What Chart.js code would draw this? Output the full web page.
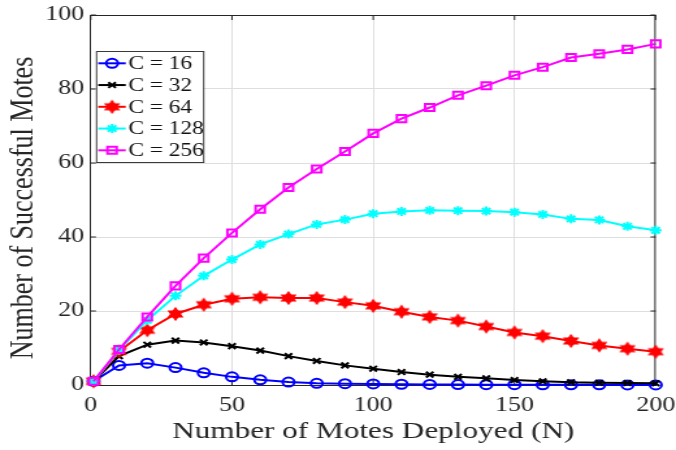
<!DOCTYPE html>
<html>
<head>
<meta charset="utf-8">
<script src="https://cdn.jsdelivr.net/npm/chart.js@4/dist/chart.umd.min.js"></script>
<style>
  html, body { margin: 0; padding: 0; background: #fff; overflow: hidden; }
</style>
</head>
<body>
<!-- the canvas is drawn narrow and widened by its inline size, giving the stretched look -->
<canvas id="chart" width="520" height="450" style="display:block;width:676px;height:450px"></canvas>
<script>
// Number of motes deployed (x axis)
const motesDeployed = [1, 10, 20, 30, 40, 50, 60, 70, 80, 90, 100, 110, 120, 130, 140, 150, 160, 170, 180, 190, 200];

// Number of successful motes for each channel count C
const successC16  = [1, 5.3, 5.9, 4.7, 3.3, 2.2, 1.4, 0.8, 0.45, 0.35, 0.3, 0.2, 0.15, 0.12, 0.1, 0.08, 0.06, 0.05, 0.04, 0.03, 0.03];
const successC32  = [1, 7.8, 10.9, 12.0, 11.5, 10.5, 9.3, 7.8, 6.5, 5.3, 4.4, 3.5, 2.8, 2.2, 1.8, 1.35, 1.0, 0.75, 0.63, 0.55, 0.45];
const successC64  = [1, 9.1, 14.8, 19.2, 21.7, 23.3, 23.7, 23.5, 23.5, 22.4, 21.4, 19.8, 18.4, 17.4, 15.8, 14.2, 13.2, 11.9, 10.7, 9.8, 9.0];
const successC128 = [1, 9.4, 17.5, 24.1, 29.5, 33.9, 38.0, 40.8, 43.4, 44.7, 46.3, 46.9, 47.2, 47.1, 47.0, 46.7, 46.1, 44.9, 44.6, 42.9, 41.8];
const successC256 = [1, 9.6, 18.4, 26.8, 34.3, 41.1, 47.5, 53.4, 58.4, 63.1, 68.0, 72.0, 75.0, 78.3, 80.9, 83.7, 85.9, 88.5, 89.5, 90.7, 92.2];

const seriesLabels = ['C = 16', 'C = 32', 'C = 64', 'C = 128', 'C = 256'];
const xTickValues = [0, 50, 100, 150, 200];
const yTickValues = [0, 20, 40, 60, 80, 100];

const xTitle = 'Number of Motes Deployed (N)';
const yTitle = 'Number of Successful Motes';

// six-pointed star marker (hexagram), filled
function makeHexagram(color, r) {
  const size = Math.ceil(r * 2 + 4);
  const c = document.createElement('canvas');
  c.width = size; c.height = size;
  const g = c.getContext('2d');
  const cx = size / 2, cy = size / 2;
  g.fillStyle = color;
  g.strokeStyle = color;
  g.lineWidth = 1.2;
  g.lineJoin = 'miter';
  [[-90, 30, 150], [90, 210, 330]].forEach(tri => {
    g.beginPath();
    tri.forEach((a, i) => {
      const t = a * Math.PI / 180;
      const px = cx + r * Math.cos(t), py = cy + r * Math.sin(t);
      if (i === 0) g.moveTo(px, py); else g.lineTo(px, py);
    });
    g.closePath();
    g.fill();
    g.stroke();
  });
  return c;
}
const hexagramRed = makeHexagram('#ff0000', 6);

const toPoints = ys => motesDeployed.map((x, i) => ({ x: x, y: ys[i] }));

const seriesStyles = [
  { color: '#0000ff', pointStyle: 'circle',   radius: 4.5 },
  { color: '#000000', pointStyle: 'crossRot', radius: 4 },
  { color: '#ff0000', pointStyle: hexagramRed, radius: 6 },
  { color: '#00ffff', pointStyle: 'star',     radius: 4.5 },
  { color: '#ff00ff', pointStyle: 'rect',     radius: 5 }
];
const seriesValues = [successC16, successC32, successC64, successC128, successC256];

const datasets = seriesValues.map((vals, i) => ({
  label: seriesLabels[i],
  data: toPoints(vals),
  borderColor: seriesStyles[i].color,
  backgroundColor: 'rgba(0,0,0,0)',
  borderWidth: 2,
  pointStyle: seriesStyles[i].pointStyle,
  pointRadius: seriesStyles[i].radius,
  pointHoverRadius: seriesStyles[i].radius,
  pointBorderColor: seriesStyles[i].color,
  pointBackgroundColor: 'rgba(0,0,0,0)',
  pointBorderWidth: 2,
  tension: 0,
  clip: false,
  order: seriesValues.length - 1 - i
}));

const axisColor = '#262626';
const gridColor = '#dedede';
const serifFont = '"Liberation Serif", "Times New Roman", serif';

// box outline, inward tick marks, vertical axis title and legend
const framePlugin = {
  id: 'frame',
  beforeDatasetsDraw(chart) {
    const { ctx, chartArea: a, scales } = chart;
    ctx.save();
    ctx.strokeStyle = axisColor;
    ctx.lineWidth = 1;
    ctx.beginPath();
    ctx.moveTo(a.left, a.top + 0.5); ctx.lineTo(a.right, a.top + 0.5);
    ctx.moveTo(a.right - 0.5, a.top); ctx.lineTo(a.right - 0.5, a.bottom);
    xTickValues.forEach(v => {
      const px = scales.x.getPixelForValue(v);
      ctx.moveTo(px, a.bottom); ctx.lineTo(px, a.bottom - 5);
      ctx.moveTo(px, a.top); ctx.lineTo(px, a.top + 5);
    });
    yTickValues.forEach(v => {
      const py = scales.y.getPixelForValue(v);
      ctx.moveTo(a.left, py); ctx.lineTo(a.left + 4, py);
      ctx.moveTo(a.right, py); ctx.lineTo(a.right - 4, py);
    });
    ctx.stroke();
    ctx.restore();
  },
  afterDraw(chart) {
    const { ctx } = chart;
    ctx.save();
    // vertical axis title
    ctx.fillStyle = axisColor;
    ctx.font = '26px ' + serifFont;
    ctx.textAlign = 'center';
    ctx.textBaseline = 'middle';
    ctx.translate(18, 208);
    ctx.rotate(-Math.PI / 2);
    ctx.fillText(yTitle, 0, 0);
    ctx.restore();

    // legend box
    ctx.save();
    const bx = 73.8, by = 51, bw = 82.4, bh = 111;
    ctx.fillStyle = '#ffffff';
    ctx.fillRect(bx, by, bw, bh);
    ctx.strokeStyle = '#3a3a3a';
    ctx.lineWidth = 1;
    ctx.strokeRect(bx + 0.5, by + 0.5, bw, bh);
    ctx.font = '18px ' + serifFont;
    ctx.textAlign = 'left';
    ctx.textBaseline = 'middle';
    chart.data.datasets.forEach((ds, i) => {
      const y = 63.3 + i * 21.75;
      ctx.strokeStyle = ds.borderColor;
      ctx.lineWidth = 2;
      ctx.beginPath();
      ctx.moveTo(75.6, y); ctx.lineTo(96.7, y);
      ctx.stroke();
      ctx.fillStyle = 'rgba(0,0,0,0)';
      if (Chart.helpers && Chart.helpers.drawPoint) {
        Chart.helpers.drawPoint(ctx, {
          pointStyle: ds.pointStyle, rotation: 0,
          radius: ds.pointRadius, borderWidth: ds.pointBorderWidth
        }, 86.2, y);
      }
      ctx.fillStyle = '#111';
      ctx.fillText(ds.label, 98.7, y + 1);
    });
    ctx.restore();
  }
};

new Chart(document.getElementById('chart'), {
  type: 'line',
  data: { datasets: datasets },
  plugins: [framePlugin],
  options: {
    responsive: false,
    animation: false,
    devicePixelRatio: 1,
    layout: { padding: { left: 0, right: 15.6, top: 15, bottom: 0 } },
    plugins: {
      legend: { display: false },
      tooltip: { enabled: false }
    },
    scales: {
      x: {
        type: 'linear',
        min: 0, max: 200,
        afterBuildTicks: s => { s.ticks = xTickValues.map(v => ({ value: v })); },
        afterFit: s => { s.height = 65; s.paddingLeft = 0; s.paddingRight = 0; },
        grid: {
          drawTicks: false,
          color: c => (c.tick && (c.tick.value === 0 || c.tick.value === 200)) ? 'rgba(0,0,0,0)' : gridColor,
          lineWidth: 1
        },
        border: { color: axisColor, width: 1 },
        ticks: {
          color: axisColor,
          padding: 9,
          maxRotation: 0,
          font: { family: serifFont, size: 20 }
        },
        title: {
          display: true,
          text: xTitle,
          color: axisColor,
          font: { family: serifFont, size: 24 },
          padding: { top: 0, bottom: 4 }
        }
      },
      y: {
        type: 'linear',
        min: 0, max: 100,
        afterBuildTicks: s => { s.ticks = yTickValues.map(v => ({ value: v })); },
        afterFit: s => { s.width = 69.8; s.paddingTop = 0; s.paddingBottom = 0; },
        grid: {
          drawTicks: false,
          color: c => (c.tick && (c.tick.value === 0 || c.tick.value === 100)) ? 'rgba(0,0,0,0)' : gridColor,
          lineWidth: 1
        },
        border: { color: axisColor, width: 1 },
        ticks: {
          color: axisColor,
          padding: 5,
          font: { family: serifFont, size: 20 }
        }
      }
    }
  }
});
</script>
</body>
</html>
